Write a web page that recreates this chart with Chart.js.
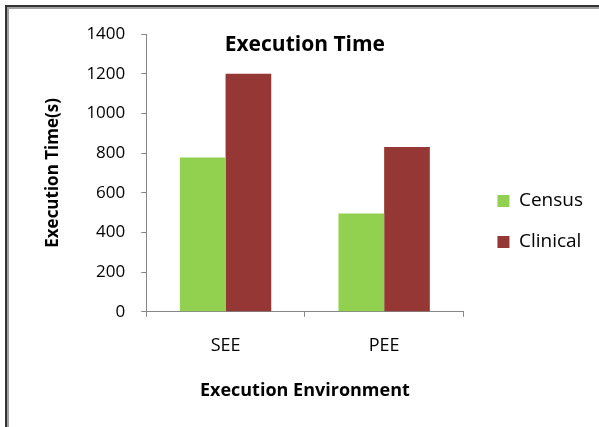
<!DOCTYPE html>
<html>
<head>
<meta charset="utf-8">
<script src="https://cdn.jsdelivr.net/npm/chart.js@4/dist/chart.umd.min.js"></script>
<style>
  html, body { margin: 0; padding: 0; background: #fff; overflow: hidden; }
  #wrap { position: relative; width: 599px; height: 427px; }
  #frame {
    position: absolute; left: 5px; top: 5px; width: 700px; height: 600px;
    border: 2px solid #333; box-shadow: inset 0 0 0 2px #a0a0a0;
    pointer-events: none;
  }
  canvas { position: absolute; left: 0; top: 0; }
</style>
</head>
<body>
<div id="wrap">
  <canvas id="c" width="599" height="427"></canvas>
  <div id="frame"></div>
</div>
<script>
const categories = ['SEE', 'PEE'];
const censusTimes = [778, 495];
const clinicalTimes = [1200, 830];
const yTicks = [0, 200, 400, 600, 800, 1000, 1200, 1400];

const FONT = '"Open Sans", sans-serif';
const LEGEND_GAP = 12;

// Chart heading is placed inside the plot area, above the bars
const innerTitle = {
  id: 'innerTitle',
  afterDraw(chart) {
    const { ctx, chartArea } = chart;
    ctx.save();
    ctx.font = 'bold 21px ' + FONT;
    ctx.fillStyle = '#000';
    ctx.textAlign = 'center';
    ctx.textBaseline = 'alphabetic';
    ctx.fillText('Execution Time', (chartArea.left + chartArea.right) / 2, 51);
    ctx.restore();
  }
};

// Leaves some empty room between the plot and the legend
const legendGap = {
  id: 'legendGap',
  afterInit(chart) {
    const lg = chart.legend;
    const fit = lg.fit.bind(lg);
    lg.fit = function () { fit(); this.width += LEGEND_GAP; };
  },
  afterLayout(chart) { chart.legend.left += LEGEND_GAP; }
};

new Chart(document.getElementById('c'), {
  type: 'bar',
  data: {
    labels: categories,
    datasets: [
      { label: 'Census', data: censusTimes, backgroundColor: '#92d050' },
      { label: 'Clinical', data: clinicalTimes, backgroundColor: '#953735' }
    ]
  },
  options: {
    responsive: false,
    animation: false,
    devicePixelRatio: 1,
    categoryPercentage: 0.576,
    barPercentage: 1,
    layout: { padding: { left: 43, top: 34, right: 6, bottom: 18 } },
    plugins: {
      tooltip: { enabled: false },
      title: { display: false },
      legend: {
        position: 'right',
        labels: {
          boxWidth: 12, boxHeight: 12, padding: 22,
          color: '#000',
          font: { family: FONT, size: 19 }
        }
      }
    },
    scales: {
      x: {
        grid: { display: true, offset: true, drawOnChartArea: false, tickLength: 5, color: '#868686' },
        border: { color: '#868686' },
        ticks: { color: '#000', padding: 18, font: { family: FONT, size: 18 } },
        title: { display: true, text: 'Execution Environment', color: '#000', padding: { top: 6, bottom: 7 }, font: { family: FONT, size: 18, weight: 'bold' } }
      },
      y: {
        min: 0, max: 1400,
        afterBuildTicks(scale) { scale.ticks = yTicks.map(v => ({ value: v })); },
        grid: { display: true, drawOnChartArea: false, tickLength: 5, color: '#868686' },
        border: { color: '#868686' },
        ticks: { color: '#000', padding: 16, font: { family: FONT, size: 17 }, callback: v => String(v) },
        title: { display: true, text: 'Execution Time(s)', color: '#000', padding: { top: 0, bottom: 7 }, font: { family: FONT, size: 17, weight: 'bold' } }
      }
    }
  },
  plugins: [innerTitle, legendGap]
});
</script>
</body>
</html>
